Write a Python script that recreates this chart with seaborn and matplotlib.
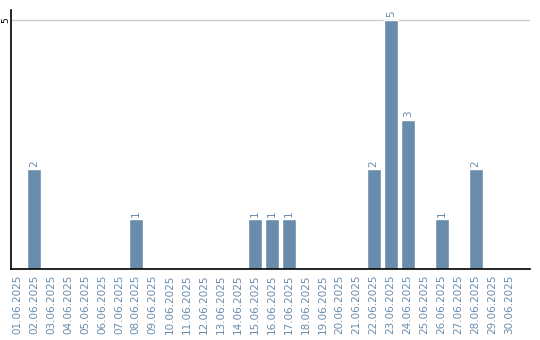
import matplotlib
matplotlib.use("Agg")
import matplotlib.pyplot as plt
import seaborn as sns
import pandas as pd

dates = [f"{d:02d}.06.2025" for d in range(1, 31)]
counts = [0, 2, 0, 0, 0, 0, 0, 1, 0, 0, 0, 0, 0, 0, 1, 1, 1, 0, 0, 0, 0, 2, 5, 3, 0, 1, 0, 2, 0, 0]
y_ticks = [5]

df = pd.DataFrame({"date": dates, "count": counts})

sns.set_theme(style="white")
plt.rcParams['font.family'] = ['DejaVu Sans']

fig = plt.figure(figsize=(5.4, 3.4), dpi=100)
ax = fig.add_axes([11/540, 71/340, 519/540, 259/340])

bar_color = "#6a8cac"
sns.barplot(data=df, x="date", y="count", color=bar_color, width=0.82, ax=ax, saturation=1)

for i, v in enumerate(counts):
    if v > 0:
        ax.text(i, v + 0.05, str(v), rotation=90, ha="center", va="bottom",
                fontsize=7.5, color="#6a8cac")

ax.set_xlim(-0.35, 30.2)
ax.set_ylim(0, 5.2)
ax.set_yticks(y_ticks)
ax.set_yticklabels([str(t) for t in y_ticks], rotation=90, fontsize=6.5, color="black", va="center")
ax.tick_params(axis="y", length=0, pad=0.5)
ax.tick_params(axis="x", length=0, pad=4, labelsize=7.5, labelcolor="#6a8cac", rotation=90)
ax.set_xlabel("")
ax.set_ylabel("")
ax.grid(axis="y", color="#cccccc", linewidth=1)
ax.set_axisbelow(True)
for s in ["top", "right"]:
    ax.spines[s].set_visible(False)
ax.spines["left"].set_color("black")
ax.spines["bottom"].set_color("black")
ax.spines["left"].set_linewidth(1.2)
ax.spines["bottom"].set_linewidth(1.2)

fig.savefig("out.png", dpi=100)
